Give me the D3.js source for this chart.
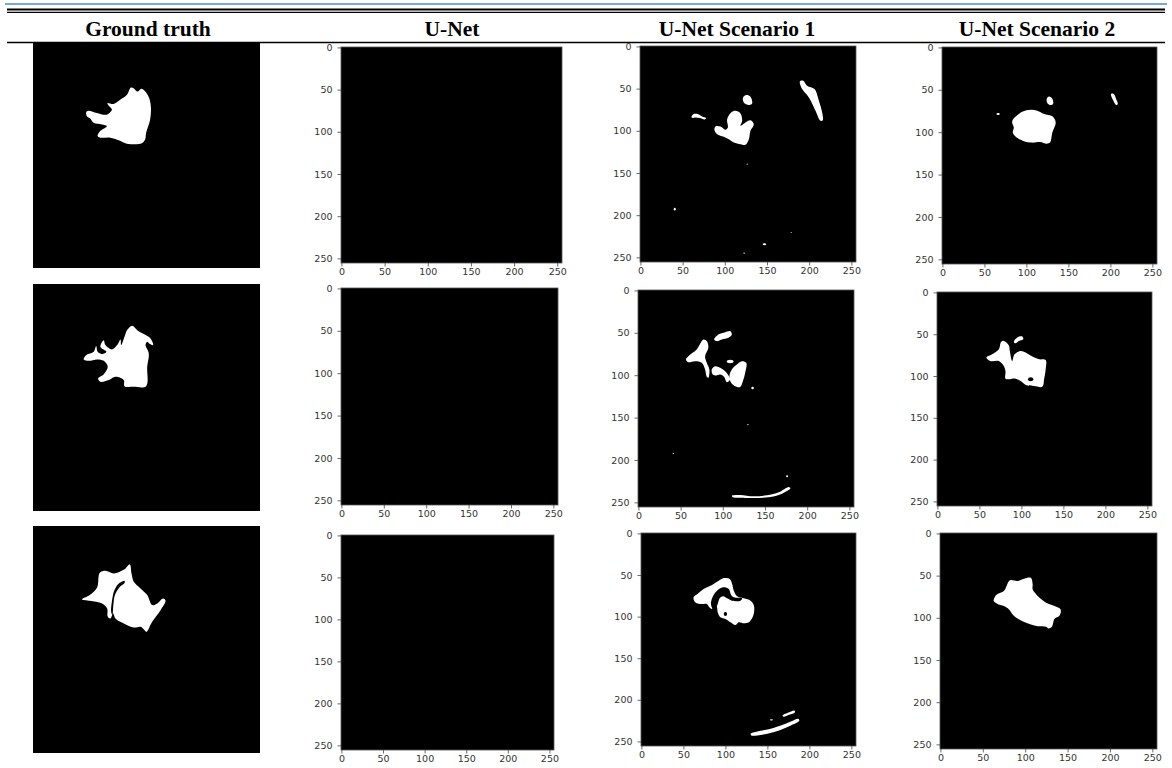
<!DOCTYPE html>
<html>
<head>
<meta charset="utf-8">
<script src="https://cdn.jsdelivr.net/npm/d3@7"></script>
<style>
  body { margin: 0; background: #fff; }
  svg { display: block; }
</style>
</head>
<body>
<div id="chart"></div>
<script>
// column titles and axis ticks
const headers = ["Ground truth", "U-Net", "U-Net Scenario 1", "U-Net Scenario 2"];
const tickValues = [0, 50, 100, 150, 200, 250];

// masks, in pixel coordinates of the 256x256 image (v: 1 = lesion, 0 = hole)
const truth1 = [
  { v: 1, pts: [[60,78.5],[62.7,77],[72,79.6],[83.3,81.5],[89,75.8],[85.2,71],[84,68.3],[90.8,69.4],[98.3,64.6],[105.9,59],[110.4,50.7],[113.4,51.4],[117.9,55.2],[121.6,52.2],[124.6,53.3],[130.3,60.8],[132.9,72.1],[132.1,87.1],[127.6,102.1],[126.5,109.6],[122.7,114.1],[105.9,114.5],[96.5,110.7],[87.1,107.7],[75.8,107.7],[72.8,105.9],[75.8,100.2],[83.3,94.6],[77.7,92.7],[68.3,90.8],[64.6,86],[60.8,83.3]] }
];
const truth2 = [
  { v: 1, pts: [[111.8,47.1],[118.2,52.7],[125,56.5],[132.5,61.4],[135.5,68.9],[131.8,67.8],[128.8,65.1],[126.9,68.9],[130.6,78.3],[128.8,93.4],[127.6,115.2],[113.7,116],[103.2,115.2],[102.4,108.4],[93,104.7],[85.5,108.4],[76,110.3],[73.4,106.6],[79.8,101.7],[84.3,93.4],[79.8,86.6],[72.3,85.1],[62.9,86.6],[57.2,85.1],[60.2,80.2],[68.5,76.5],[71.2,70],[73,76.5],[77.9,79.1],[82.8,76.5],[76,70.8],[79.8,63.3],[81.7,68.9],[89.2,73.8],[94.9,68.9],[98.7,62.5],[99.4,68.9],[103.2,59.5],[106.2,52]] }
];
const truth3 = [
  { v: 1, pts: [[55.3,82.8],[64,77.9],[72.3,69.3],[75.3,52.7],[81.7,50.5],[91.1,53.5],[103.2,48.9],[109.2,43.3],[111.1,53.5],[113.7,62.9],[121.2,70.4],[128.8,77.9],[134.4,89.2],[140.1,87.3],[146.8,81.7],[149.5,84.3],[143.8,94.9],[134.4,108.1],[128,119.4],[125.8,117.5],[121.2,113.7],[113.7,114.5],[102.4,109.9],[93,104.3],[90.4,98.6],[87.3,104.3],[84.3,102.4],[83.6,93],[77.9,87.3],[64,84.3]] },
  { v: 0, pts: [[103.2,61.7],[96.8,64.8],[91.9,72.3],[89.2,83.6],[88.1,96.8],[89.6,100.5],[90.6,89.2],[92.4,77.9],[97.4,69.3],[103.2,64.4]] }
];

const unet1 = [];
const unet2 = [];
const unet3 = [];

const scen1a = [
  { v: 1, pts: [[189,41.5],[192.9,40.7],[197.6,46.6],[206.3,50.6],[211.5,64.4],[215.4,78.3],[216.2,87.4],[213.4,88.1],[207.5,76.3],[199.6,60.5],[191.7,50.6]] },
  { v: 1, pts: [[121.7,60.5],[125.7,57.7],[130.4,59.7],[132.4,67.6],[128.5,69.4],[122.5,66.4]] },
  { v: 1, pts: [[60.5,83.4],[63.2,80.2],[67.9,80.2],[73.1,83],[77.9,84.9],[75.9,86.5],[70.4,84.9],[65.2,84.2],[61.7,84.9]] },
  { v: 1, pts: [[102.8,86.2],[107.5,78.3],[112.6,76.3],[118.6,79.4],[120.6,88.1],[118.6,94.1],[124.5,90.1],[130.4,87.4],[134.4,92.1],[130.4,100],[128.5,109.9],[124.5,116.6],[118.6,115.8],[110.7,113.8],[104.7,109.9],[98.8,107.1],[90.9,104],[87.7,99.2],[88.9,94.9],[94.9,94.9],[100.8,98.8],[103.6,96]] },
  { v: 1, c: [126.5,139.5], r: [0.6,0.8] },
  { v: 1, c: [40.7,192.9], r: [1.2,1.6] },
  { v: 1, c: [147,234.4], r: [2,1.2] },
  { v: 1, c: [122.9,245], r: [0.8,0.8] },
  { v: 1, c: [178.7,220.6], r: [0.6,0.6] }
];
const scen2a = [
  { v: 1, pts: [[83.8,85.3],[95,75.8],[105,73.4],[113,74.6],[121,78.6],[130.9,81.3],[134.9,88.5],[130.9,100.4],[128.1,112.3],[124.2,113.5],[116.2,111.5],[107,112.3],[96.2,110.3],[87,105.2],[83.8,100.4],[85,94.4],[83,88.5]] },
  { v: 1, pts: [[124.2,60.7],[127,57.9],[131,60.7],[131.7,66.7],[128.1,67.9],[124.9,65.5]] },
  { v: 1, pts: [[200.8,54.8],[204,54.8],[206.8,60.7],[208.8,66.7],[206.8,67.9],[202.8,61.5]] },
  { v: 1, c: [66.3,78.6], r: [2,1.2] }
];

const scen1b = [
  { v: 1, pts: [[89.7,57.9],[94.8,52],[102.8,49.2],[108.7,48],[110.7,52],[106.7,55.9],[98.8,57.9],[92.9,59.8]] },
  { v: 1, pts: [[56.3,81.5],[59.1,77.6],[69,69.7],[77,57.9],[81,59.8],[82.9,67.7],[79,77.6],[81,85.4],[84.1,93.3],[82.9,103.1],[81,101.9],[79,93.3],[75,85.4],[67.1,83.5],[59.1,84.6]] },
  { v: 1, pts: [[86.9,93.3],[90.9,89.4],[96.8,91.3],[102.8,95.3],[106.7,100.4],[108.7,105.1],[104.8,108.3],[101.6,102],[96.8,99.2],[92.1,100.4],[88.1,99.2]] },
  { v: 1, pts: [[110.7,93.3],[116.7,87.4],[122.6,83.5],[127.8,85.4],[126.6,97.2],[123.8,107.1],[120.6,113.8],[114.7,113],[109.5,108.3],[107.9,100.4]] },
  { v: 1, c: [108.7,83.9], r: [4,2] },
  { v: 1, c: [135.3,115], r: [1.5,1.5] },
  { v: 1, c: [129.8,158.3], r: [0.8,0.8] },
  { v: 1, c: [41.3,192.5], r: [0.8,0.8] },
  { v: 1, c: [176.2,219.3], r: [1.2,1.2] },
  { v: 1, pts: [[110.7,242.1],[120.6,241.3],[136.5,242.9],[152.4,241.7],[166.3,238.2],[178.2,231.9],[180.2,233.5],[170.2,239.8],[156.3,243.7],[136.5,244.9],[120.6,244.5],[111.9,244.1]] }
];
const scen2b = [
  { v: 1, pts: [[58.3,78],[65.1,74],[73.1,68],[75.8,59.2],[79,58],[85,63.2],[86.2,70],[89,82],[91.8,74],[99,70],[105,72],[113,76.8],[121,80],[128.9,80.8],[128.9,92],[127,104],[125,112.8],[115,112],[106.2,111.2],[99,106],[93,103.2],[85,104],[81,103.2],[81,94],[79,88],[73.1,82],[63.1,82]] },
  { v: 1, pts: [[91,59.2],[95,54],[101,52.8],[102.2,56],[97,58],[93,60.8]] },
  { v: 0, c: [111,104], r: [3.2,2.4] }
];

const scen1c = [
  { v: 1, pts: [[62,76.8],[66.8,72.8],[74,66.8],[84,62],[92,56.8],[98.8,53.6],[105.2,54.8],[108,60.8],[110,68.8],[114,75.6],[122,78],[130,80.8],[134,86.8],[133.2,98.8],[128,106.8],[122,108],[116,106.8],[112,110],[106,106.8],[100,102.8],[94,100.8],[90.8,94.8],[90,88.8],[86.8,84.8],[84,90.8],[80.8,88.8],[78,84.8],[70,84.8],[64,82.8]] },
  { v: 0, pts: [[82.8,84.8],[85.2,75.6],[90,68.8],[97.2,64.8],[104,66.8],[106.8,74],[110,76.8],[120,78],[118,80.8],[108,80.8],[102,78],[97.2,75.6],[93.2,78],[90.8,84.8],[88,90.8],[85.2,90.8]] },
  { v: 0, c: [100,96.8], r: [2,2.5] },
  { v: 1, pts: [[130,240.8],[138,238],[150,235.6],[166,230.8],[178,226],[186.8,222.8],[188,225.2],[178,230.8],[164,236.8],[150,240.8],[138,242.8],[130.8,242.8]] },
  { v: 1, pts: [[168,218.8],[176,214.8],[182,212.8],[182.8,214.8],[176,218],[169.2,220.4]] },
  { v: 1, c: [154.8,224], r: [2,0.8] }
];
const scen2c = [
  { v: 1, pts: [[63.7,76.2],[66.9,72.2],[74.9,68.3],[80.9,56.3],[83.7,55.2],[90.8,56.3],[98.8,53.6],[106.8,52.8],[108.8,60.3],[108.8,66.3],[114.7,74.2],[124.7,82.1],[134.7,86.1],[141.8,90.1],[140.6,97.2],[134.7,101.2],[131.5,110.7],[127.5,112.7],[124.7,110.7],[114.7,109.9],[106.8,107.9],[96.8,104],[86.9,98],[80.9,90.1],[74.9,86.1],[66.9,83.3],[62.9,80.2]] }
];

const truthMasks = [truth1, truth2, truth3];
const predMasks = [[unet1, scen1a, scen2a], [unet2, scen1b, scen2b], [unet3, scen1c, scen2c]];

// layout
const W = 1172, H = 768;
const headerX = [148, 452, 737, 1037];
const truthBoxes = [[33, 43, 260, 268], [33, 284, 260, 511], [33, 526, 260, 753]];
const axBoxes = [
  [[341, 47, 562, 263], [640, 46, 856, 262], [942, 47, 1157, 264]],
  [[341, 288, 558, 505], [638, 290, 854, 507], [937, 292, 1152, 506]],
  [[341, 535, 554, 750], [641, 533, 856, 746], [940, 533, 1157, 749]]
];

const svg = d3.select("#chart").append("svg")
  .attr("width", W).attr("height", H);

// table rules
svg.append("line").attr("x1", 5).attr("x2", 1167).attr("y1", 4).attr("y2", 4)
  .attr("stroke", "#4a8ccc").attr("stroke-width", 1.5);
svg.append("line").attr("x1", 7).attr("x2", 1165).attr("y1", 9.6).attr("y2", 9.6)
  .attr("stroke", "#000").attr("stroke-width", 2);
svg.append("line").attr("x1", 7).attr("x2", 1165).attr("y1", 12.4).attr("y2", 12.4)
  .attr("stroke", "#000").attr("stroke-width", 1.2);
svg.append("line").attr("x1", 7).attr("x2", 1165).attr("y1", 42.5).attr("y2", 42.5)
  .attr("stroke", "#000").attr("stroke-width", 1.5);

svg.selectAll("text.head")
  .data(headers)
  .join("text")
  .attr("class", "head")
  .attr("x", (d, i) => headerX[i])
  .attr("y", 35.5)
  .attr("text-anchor", "middle")
  .style("font-family", "'Liberation Serif', 'DejaVu Serif', serif")
  .style("font-weight", "bold")
  .style("font-size", "21.5px")
  .text((d) => d);

let clipId = 0;
function drawMask(g, shapes, x, y, box) {
  const id = "clip" + clipId++;
  g.append("clipPath").attr("id", id)
    .append("rect")
    .attr("x", box[0]).attr("y", box[1])
    .attr("width", box[2] - box[0]).attr("height", box[3] - box[1]);

  g.append("rect")
    .attr("x", box[0]).attr("y", box[1])
    .attr("width", box[2] - box[0]).attr("height", box[3] - box[1])
    .attr("fill", "#000");

  const blob = d3.line()
    .x((d) => x(d[0]))
    .y((d) => y(d[1]))
    .curve(d3.curveCatmullRomClosed.alpha(0.5));

  const inner = g.append("g").attr("clip-path", `url(#${id})`);
  shapes.forEach((s) => {
    const fill = s.v ? "#fff" : "#000";
    if (s.pts) {
      inner.append("path").attr("d", blob(s.pts)).attr("fill", fill);
    } else {
      inner.append("ellipse")
        .attr("cx", x(s.c[0])).attr("cy", y(s.c[1]))
        .attr("rx", Math.abs(x(s.c[0] + s.r[0]) - x(s.c[0])))
        .attr("ry", Math.abs(y(s.c[1] + s.r[1]) - y(s.c[1])))
        .attr("fill", fill);
    }
  });
}

// ground truth column: plain images
truthMasks.forEach((mask, r) => {
  const b = truthBoxes[r];
  const x = d3.scaleLinear().domain([0, 256]).range([b[0], b[2]]);
  const y = d3.scaleLinear().domain([0, 256]).range([b[1], b[3]]);
  drawMask(svg.append("g"), mask, x, y, b);
});

// prediction columns: imshow style panels with axes
predMasks.forEach((row, r) => {
  row.forEach((mask, c) => {
    const b = axBoxes[r][c];
    const x = d3.scaleLinear().domain([-0.5, 255.5]).range([b[0], b[2]]);
    const y = d3.scaleLinear().domain([-0.5, 255.5]).range([b[1], b[3]]);
    const g = svg.append("g");
    drawMask(g, mask, x, y, b);

    g.append("rect")
      .attr("x", b[0]).attr("y", b[1])
      .attr("width", b[2] - b[0]).attr("height", b[3] - b[1])
      .attr("fill", "none").attr("stroke", "#555").attr("stroke-width", 0.8);

    const xAxis = g.append("g")
      .attr("transform", `translate(0,${b[3]})`)
      .call(d3.axisBottom(x).tickValues(tickValues).tickSize(3.5).tickPadding(1.5));
    const yAxis = g.append("g")
      .attr("transform", `translate(${b[0]},0)`)
      .call(d3.axisLeft(y).tickValues(tickValues).tickSize(3.5).tickPadding(5));

    [xAxis, yAxis].forEach((a) => {
      a.select(".domain").remove();
      a.selectAll("line").attr("stroke", "#444").attr("stroke-width", 0.8);
      a.selectAll("text")
        .attr("fill", "#333")
        .style("font-family", "'DejaVu Sans', sans-serif")
        .style("font-size", "9.5px");
    });
  });
});
</script>
</body>
</html>
